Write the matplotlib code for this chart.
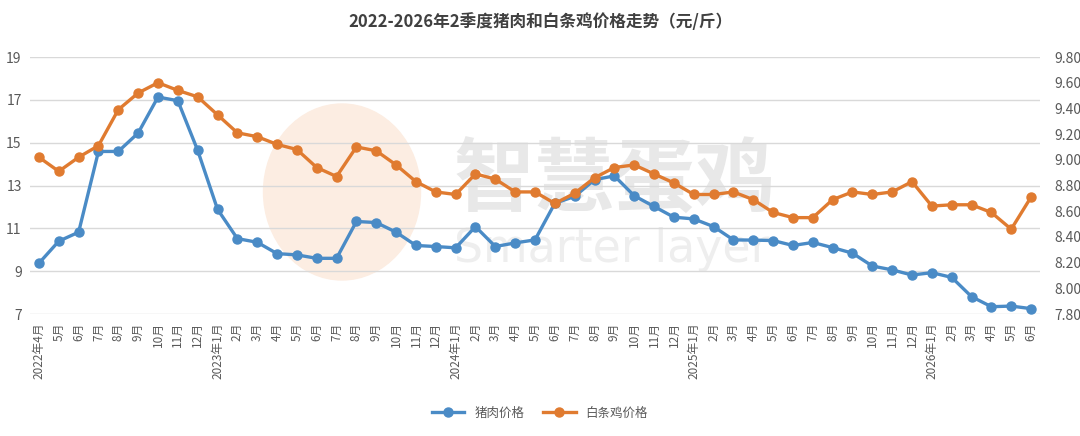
import matplotlib.pyplot as plt
from matplotlib.patches import Ellipse

plt.rcParams['font.family'] = ['Noto Sans CJK SC', 'DejaVu Sans']

# months from 2022-04 to 2026-06
months = ['2022年4月', '5月', '6月', '7月', '8月', '9月', '10月', '11月', '12月',
          '2023年1月', '2月', '3月', '4月', '5月', '6月', '7月', '8月', '9月', '10月', '11月', '12月',
          '2024年1月', '2月', '3月', '4月', '5月', '6月', '7月', '8月', '9月', '10月', '11月', '12月',
          '2025年1月', '2月', '3月', '4月', '5月', '6月', '7月', '8月', '9月', '10月', '11月', '12月',
          '2026年1月', '2月', '3月', '4月', '5月', '6月']

# pork price (left axis)
pork = [9.37, 10.40, 10.82, 14.59, 14.59, 15.45, 17.13, 16.96, 14.64,
        11.89, 10.52, 10.35, 9.82, 9.76, 9.60, 9.60, 11.32, 11.27, 10.82, 10.20, 10.15,
        10.09, 11.08, 10.15, 10.32, 10.46, 12.17, 12.49, 13.27, 13.45, 12.52, 12.02, 11.52,
        11.44, 11.08, 10.46, 10.45, 10.43, 10.20, 10.34, 10.10, 9.84, 9.24, 9.06, 8.82,
        8.93, 8.71, 7.81, 7.34, 7.37, 7.25]

# white-strip chicken price (right axis)
chicken = [9.02, 8.91, 9.02, 9.11, 9.39, 9.52, 9.60, 9.54, 9.49,
           9.35, 9.21, 9.18, 9.12, 9.08, 8.94, 8.87, 9.10, 9.07, 8.96, 8.83, 8.75,
           8.73, 8.89, 8.85, 8.75, 8.75, 8.66, 8.74, 8.86, 8.94, 8.96, 8.89, 8.82,
           8.73, 8.73, 8.75, 8.69, 8.59, 8.55, 8.55, 8.69, 8.75, 8.73, 8.75, 8.83,
           8.64, 8.65, 8.65, 8.59, 8.46, 8.71]

left_ticks = [7, 9, 11, 13, 15, 17, 19]
right_ticks = [7.8, 8.0, 8.2, 8.4, 8.6, 8.8, 9.0, 9.2, 9.4, 9.6, 9.8]

blue = '#4a8bc6'
orange = '#e07b30'
grey = '#595959'

fig = plt.figure(figsize=(10.8, 4.36), dpi=100)
ax = fig.add_axes([30 / 1080, 1 - 314 / 436, 1010 / 1080, 257 / 436])
ax2 = ax.twinx()

# watermark
fig.patches.append(Ellipse((342 / 1080, 1 - 192 / 436), 157 / 1080, 176 / 436,
                           transform=fig.transFigure, color='#fcede2', zorder=0))
fig.text(0.42, 1 - 182 / 436, '智慧蛋鸡', fontsize=58, color='#e8e8e8',
         fontweight='bold', va='center', ha='left', zorder=0.5)
fig.text(0.42, 1 - 250 / 436, 'Smarter layer', fontsize=33, color='#eeeeee',
         va='center', ha='left', zorder=0.5, family=['DejaVu Sans'])
ax.set_zorder(2)
ax2.set_zorder(3)
ax.patch.set_visible(False)

x = list(range(len(months)))
ax.plot(x, pork, color=blue, lw=2.4, marker='o', ms=6.5, label='猪肉价格')
ax2.plot(x, chicken, color=orange, lw=2.4, marker='o', ms=6.5, label='白条鸡价格')

ax.set_xlim(-0.45, len(months) - 0.55)
ax.set_ylim(7, 19)
ax.set_yticks(left_ticks)
ax2.set_ylim(7.8, 9.8)
ax2.set_yticks(right_ticks)
ax2.set_yticklabels([f'{v:.2f}' for v in right_ticks])

ax.grid(axis='y', color='#d9d9d9', lw=1)
ax.set_axisbelow(True)
for a in (ax, ax2):
    for s in a.spines.values():
        s.set_visible(False)
    a.tick_params(length=0, colors=grey, labelsize=10)

ax.set_xticks(x)
ax.set_xticklabels(months, rotation=90, fontsize=8.5, color=grey)
ax.tick_params(axis='x', pad=6)
ax.tick_params(axis='y', pad=6)
ax2.tick_params(axis='y', pad=10)

h1, l1 = ax.get_legend_handles_labels()
h2, l2 = ax2.get_legend_handles_labels()
fig.legend(h1 + h2, l1 + l2, loc='center', bbox_to_anchor=(0.5, 1 - 413 / 436),
           ncol=2, frameon=False, fontsize=9, labelcolor=grey, handlelength=2.6,
           columnspacing=1.5)

fig.text(0.5, 1 - 22 / 436, '2022-2026年2季度猪肉和白条鸡价格走势（元/斤）',
         ha='center', va='center', fontsize=12, fontweight='bold', color='#404040')

fig.savefig('out.png', dpi=100)
